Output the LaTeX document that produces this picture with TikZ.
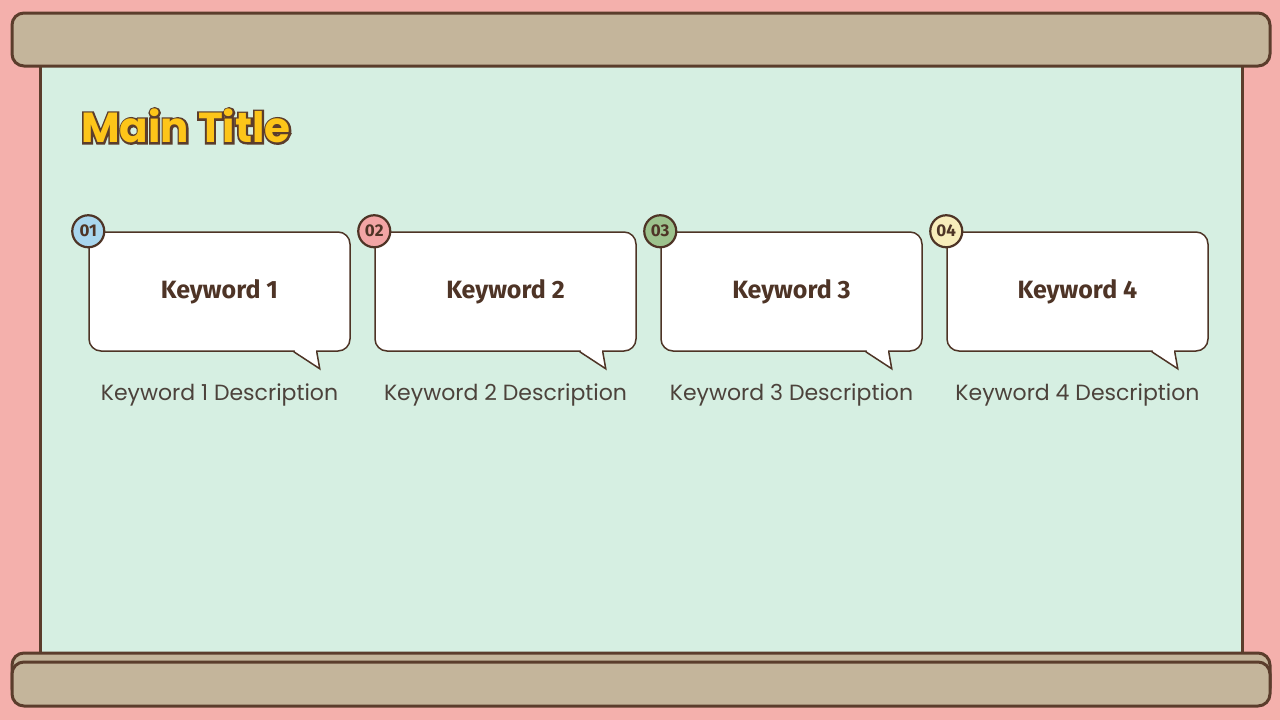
\documentclass[tikz,border=0pt]{standalone}
\usepackage{fontspec}
\setmainfont{Poppins}
\newfontfamily\kwfont{Fira Sans}
\newfontfamily\descfont{Poppins}
\newfontfamily\titleedge{Poppins}[FakeBold=9]
\usetikzlibrary{positioning,calc}
\definecolor{pinkbg}{HTML}{F4B0AC}
\definecolor{barbeige}{HTML}{C4B59B}
\definecolor{woodbrown}{HTML}{5B3D2C}
\definecolor{boardmint}{HTML}{D6EFE2}
\definecolor{titleyellow}{HTML}{FDC519}
\definecolor{kwbrown}{HTML}{4E3426}
\definecolor{descgray}{HTML}{4C423B}
\definecolor{badgeblue}{HTML}{A9D6EE}
\definecolor{badgepink}{HTML}{F2A5A5}
\definecolor{badgegreen}{HTML}{9DC28D}
\definecolor{badgecream}{HTML}{F8EDBB}

\begin{document}
\begin{tikzpicture}[
    x=1pt, y=-1pt,
    bar/.style={draw=woodbrown, fill=barbeige, line width=3pt, rounded corners=12pt},
    bubble/.style={draw=kwbrown, fill=white, line width=1.5pt, rounded corners=12pt,
                   minimum width=261pt, minimum height=119pt, inner sep=0pt},
    badge/.style={circle, draw=kwbrown, line width=2.2pt, minimum size=32pt, inner sep=0pt,
                  font=\kwfont\bfseries\fontsize{17}{17}\selectfont, text=kwbrown},
    kw/.style={font=\kwfont\bfseries\fontsize{25}{25}\selectfont, text=kwbrown},
    desc/.style={font=\descfont\fontsize{22}{22}\selectfont, text=descgray},
    tail/.style={draw=kwbrown, line width=1.5pt, line join=miter}
]
    \useasboundingbox (0,0) rectangle (1280,720);
    \fill[pinkbg] (0,0) rectangle (1280,720);

    % board and wooden bars
    \draw[woodbrown, fill=boardmint, line width=3pt] (40,60) rectangle (1242,656);
    \draw[bar] (12,13) rectangle (1270,66);
    \draw[bar] (12,653) rectangle (1270,700);
    \draw[bar] (12,662) rectangle (1270,706);

    % title (brown edge under yellow letters)
    \node[text=woodbrown, font=\titleedge\bfseries\fontsize{42}{42}\selectfont] (titleback) at (186,126) {Main Title};
    \node[text=titleyellow, font=\bfseries\fontsize{42}{42}\selectfont] (title) at (titleback) {Main Title};

    % speech bubbles
    \node[bubble] (b1) at (219.5,291.5) {};
    \node[bubble] (b2) at (505.5,291.5) {};
    \node[bubble] (b3) at (791.5,291.5) {};
    \node[bubble] (b4) at (1077.5,291.5) {};

    \fill[white] ([xshift=-56pt,yshift=2pt]b1.south east) -- ([xshift=-56pt]b1.south east) -- ++(25,17) -- ([xshift=-35pt]b1.south east) -- ([xshift=-35pt,yshift=2pt]b1.south east) -- cycle;
    \draw[tail] ([xshift=-57pt]b1.south east) -- ++(26,17) -- ([xshift=-34pt]b1.south east);
    \fill[white] ([xshift=-56pt,yshift=2pt]b2.south east) -- ([xshift=-56pt]b2.south east) -- ++(25,17) -- ([xshift=-35pt]b2.south east) -- ([xshift=-35pt,yshift=2pt]b2.south east) -- cycle;
    \draw[tail] ([xshift=-57pt]b2.south east) -- ++(26,17) -- ([xshift=-34pt]b2.south east);
    \fill[white] ([xshift=-56pt,yshift=2pt]b3.south east) -- ([xshift=-56pt]b3.south east) -- ++(25,17) -- ([xshift=-35pt]b3.south east) -- ([xshift=-35pt,yshift=2pt]b3.south east) -- cycle;
    \draw[tail] ([xshift=-57pt]b3.south east) -- ++(26,17) -- ([xshift=-34pt]b3.south east);
    \fill[white] ([xshift=-56pt,yshift=2pt]b4.south east) -- ([xshift=-56pt]b4.south east) -- ++(25,17) -- ([xshift=-35pt]b4.south east) -- ([xshift=-35pt,yshift=2pt]b4.south east) -- cycle;
    \draw[tail] ([xshift=-57pt]b4.south east) -- ++(26,17) -- ([xshift=-34pt]b4.south east);

    \node[kw] (k1) at (b1) {Keyword 1};
    \node[kw] (k2) at (b2) {Keyword 2};
    \node[kw] (k3) at (b3) {Keyword 3};
    \node[kw] (k4) at (b4) {Keyword 4};

    % number badges
    \node[badge, fill=badgeblue] (n1) at (b1.north west) {01};
    \node[badge, fill=badgepink] (n2) at (b2.north west) {02};
    \node[badge, fill=badgegreen] (n3) at (b3.north west) {03};
    \node[badge, fill=badgecream] (n4) at (b4.north west) {04};

    % descriptions
    \node[desc, below=28pt of b1] (d1) {Keyword 1 Description};
    \node[desc, below=28pt of b2] (d2) {Keyword 2 Description};
    \node[desc, below=28pt of b3] (d3) {Keyword 3 Description};
    \node[desc, below=28pt of b4] (d4) {Keyword 4 Description};
\end{tikzpicture}
\end{document}
